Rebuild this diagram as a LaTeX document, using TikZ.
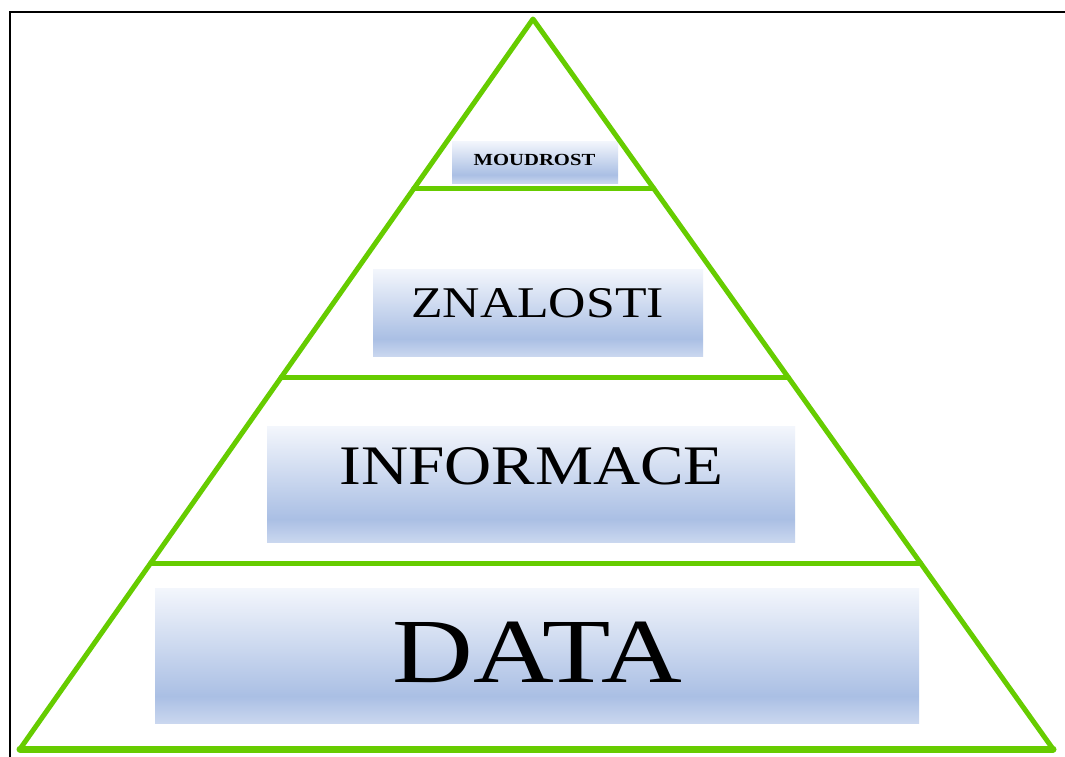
\documentclass[tikz,border=0pt]{standalone}
\usepackage{fontspec}
\setmainfont{Liberation Serif}
\usetikzlibrary{calc}
\definecolor{pgreen}{HTML}{66CC00}
\definecolor{btop}{HTML}{F3F6FC}
\definecolor{bmid}{HTML}{AABFE4}
\definecolor{bbot}{HTML}{CAD7EF}
\pgfdeclareverticalshading{boxshade}{100bp}{color(0bp)=(bbot); color(25bp)=(bbot); color(35bp)=(bmid); color(75bp)=(btop); color(100bp)=(btop)}
\tikzset{
  gline/.style={draw=pgreen, line width=5bp, line cap=round},
  levelbox/.style={shading=boxshade, draw=none, inner sep=0pt, anchor=north west},
  leveltext/.style={anchor=base, inner sep=0pt, text=black},
}
\newcommand{\wide}[2]{\scalebox{#1}[1]{#2}}
\begin{document}
\begin{tikzpicture}[x=1bp,y=-1bp]
\useasboundingbox (0,0) rectangle (1065,757);
\fill[white] (0,0) rectangle (1065,757);
% frame
\draw[black, line width=2bp] (9.5,757) -- (9.5,12.5) -- (1065,12.5);
% boxes
\node[levelbox, minimum width=166bp, minimum height=42bp] (bw) at (452,141) {};
\node[levelbox, minimum width=330bp, minimum height=87bp] (bk) at (373,269) {};
\node[levelbox, minimum width=528bp, minimum height=116bp] (bi) at (267,426) {};
\node[levelbox, minimum width=764bp, minimum height=135bp] (bd) at (155,588) {};
% texts
\node[leveltext, font=\bfseries\fontsize{17}{17}\selectfont] (tw) at (534.5,165.5) {\wide{1.22}{MOUDROST}};
\node[leveltext, font=\fontsize{44}{44}\selectfont] (tk) at (537.5,317) {\wide{1.18}{ZNALOSTI}};
\node[leveltext, font=\fontsize{56}{56}\selectfont] (ti) at (531.5,484) {\wide{1.17}{INFORMACE}};
\node[leveltext, font=\fontsize{92}{92}\selectfont] (td) at (537.5,682) {\wide{1.22}{DATA}};
% pyramid
\coordinate (apex) at (533,19);
\coordinate (bl) at (20,749);
\coordinate (br) at (1053,749);
\draw[gline, line join=round] (bl) -- (apex) -- (br);
\draw[draw=pgreen, line width=7bp, line cap=round] (bl) -- (br);
\draw[gline] ($(apex)!0.2326!(bl)$) -- ($(apex)!0.2326!(br)$);
\draw[gline] ($(apex)!0.4911!(bl)$) -- ($(apex)!0.4911!(br)$);
\draw[gline] ($(apex)!0.7456!(bl)$) -- ($(apex)!0.7456!(br)$);
\end{tikzpicture}
\end{document}
